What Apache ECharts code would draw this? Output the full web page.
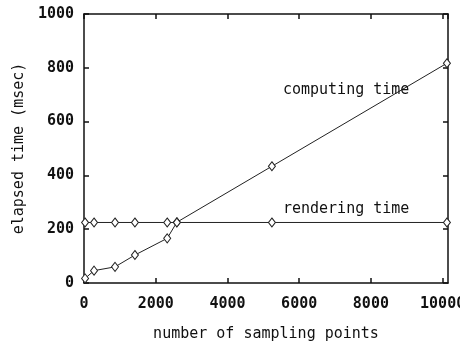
<!DOCTYPE html>
<html>
<head>
<meta charset="utf-8">
<script src="https://cdn.jsdelivr.net/npm/echarts@6/dist/echarts.min.js"></script>
<style>
    html,body{margin:0;padding:0;background:#fff;}
    #chart{width:460px;height:343px;}
</style>
</head>
<body>
<div id="chart"></div>
<script>
    // number of sampling points
    var samplePoints = [30, 280, 865, 1420, 2320, 2590, 5240, 10120];
    // elapsed time (msec)
    var computingTime = [17, 46, 60, 104, 166, 226, 434, 817];
    var renderingTime = [225, 225, 225, 225, 225, 225, 225, 225];
    var xTickLabels = ['0', '2000', '4000', '6000', '8000', '10000'];
    var yTickLabels = ['0', '200', '400', '600', '800', '1000'];

    var mono = 'DejaVu Sans Mono';
    var ink = '#111';

    function pairs(xs, ys){
        return xs.map(function(x, i){ return [x, ys[i]]; });
    }

    function tag(text, coord){
        return {
            symbol: 'rect',
            symbolSize: 1,
            silent: true,
            itemStyle: {color: 'rgba(0,0,0,0)'},
            label: {show: true, position: 'inside', formatter: text, fontFamily: mono, fontSize: 15, color: ink},
            data: [{coord: coord}]
        };
    }

    var chart = echarts.init(document.getElementById('chart'));

    var baseX = {
        type: 'value',
        min: 0,
        max: 10150,
        interval: 2000,
        axisLine: {show: true, onZero: false, lineStyle: {color: ink, width: 1.5}},
        axisTick: {show: true, inside: true, length: 5, lineStyle: {color: ink, width: 1.5}},
        splitLine: {show: false}
    };
    var baseY = {
        type: 'value',
        min: 0,
        max: 1000,
        interval: 200,
        axisLine: {show: true, onZero: false, lineStyle: {color: ink, width: 1.5}},
        axisTick: {show: true, inside: true, length: 5, lineStyle: {color: ink, width: 1.5}},
        splitLine: {show: false}
    };

    var option = {
        animation: false,
        backgroundColor: '#fff',
        grid: {left: 84, right: 12, top: 14, bottom: 60, containLabel: false, outerBoundsMode: 'none'},
        xAxis: [
            Object.assign({}, baseX, {
                position: 'bottom',
                name: 'number of sampling points',
                nameLocation: 'middle',
                nameGap: 44,
                nameTextStyle: {fontFamily: mono, fontSize: 15, color: ink},
                axisLabel: {
                    fontFamily: mono, fontSize: 15, fontWeight: 'bold', color: ink, margin: 14,
                    formatter: function(v){ return xTickLabels[Math.round(v / 2000)]; }
                }
            }),
            Object.assign({}, baseX, {position: 'top', axisLabel: {show: false}})
        ],
        yAxis: [
            Object.assign({}, baseY, {
                position: 'left',
                name: 'elapsed time (msec)',
                nameLocation: 'middle',
                nameGap: 56,
                nameTextStyle: {fontFamily: mono, fontSize: 15, color: ink},
                axisLabel: {
                    fontFamily: mono, fontSize: 15, fontWeight: 'bold', color: ink, margin: 10,
                    formatter: function(v){ return yTickLabels[Math.round(v / 200)]; }
                }
            }),
            Object.assign({}, baseY, {position: 'right', axisLabel: {show: false}})
        ],
        series: [
            {
                name: 'computing time',
                type: 'line',
                data: pairs(samplePoints, computingTime),
                symbol: 'diamond',
                symbolSize: [7, 9],
                showAllSymbol: true,
                lineStyle: {color: '#222', width: 1},
                itemStyle: {color: '#fff', borderColor: '#222', borderWidth: 1},
                markPoint: tag('computing time', [7310, 718])
            },
            {
                name: 'rendering time',
                type: 'line',
                data: pairs(samplePoints, renderingTime),
                symbol: 'diamond',
                symbolSize: [7, 9],
                showAllSymbol: true,
                lineStyle: {color: '#222', width: 1},
                itemStyle: {color: '#fff', borderColor: '#222', borderWidth: 1},
                markPoint: tag('rendering time', [7310, 276])
            }
        ]
    };

    chart.setOption(option);
    window.addEventListener('resize', chart.resize);
</script>
</body>
</html>
